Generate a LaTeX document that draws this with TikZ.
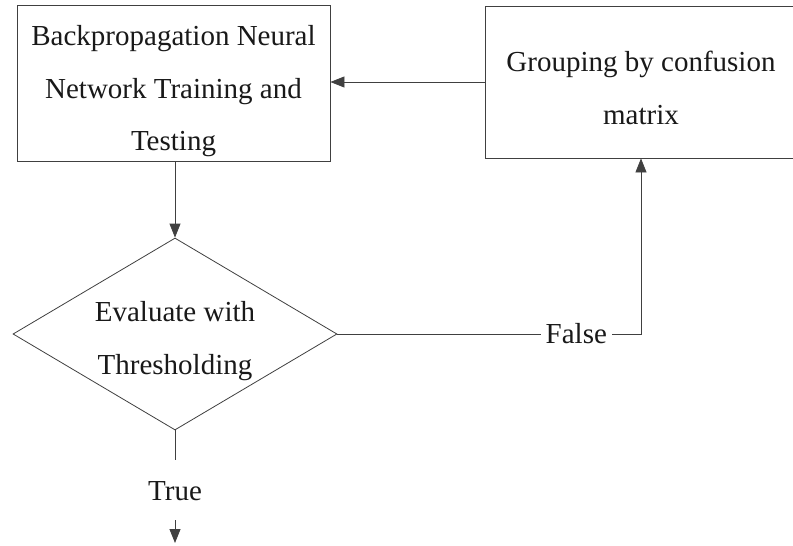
\documentclass[tikz,border=0pt]{standalone}
\usepackage{fontspec}
\setmainfont{Liberation Serif}
\usetikzlibrary{shapes.geometric,arrows.meta}
\begin{document}
\begin{tikzpicture}[x=1pt,y=-1pt,
  line width=0.8pt,
  lncol/.style={draw=black!75},
  txt/.style={text=black!90, font=\fontsize{29}{52.5}\selectfont, align=center},
  boxnode/.style={lncol, txt, rectangle, inner sep=0pt},
  decision/.style={lncol, txt, diamond, inner sep=0pt, shape aspect=1.6875, minimum width=324pt, minimum height=192pt},
  arr/.style={lncol, -{Triangle[length=14pt,width=11pt]}},
  lbl/.style={txt, fill=white, inner xsep=5pt, inner ysep=2pt}
]
\useasboundingbox (0,0) rectangle (793,546);
\fill[white] (0,0) rectangle (793,546);

\node[boxnode, minimum width=313pt, minimum height=156pt] (a) at (173.5,83)
  {\rule{0pt}{37pt}Backpropagation Neural\\Network Training and\\Testing};
\node[boxnode, minimum width=312pt, minimum height=152pt] (b) at (641,82)
  {\rule{0pt}{32pt}Grouping by confusion\\matrix};
\node[decision] (d) at (175,334)
  {\rule{0pt}{34pt}Evaluate with\\Thresholding};

\coordinate (corner) at (d.east -| b.south);
\coordinate (t1) at (175,460);
\coordinate (t2) at (175,520);
\coordinate (t3) at (175,543);
\node[txt, inner sep=0pt] (true) at (175,491) {True};

\draw[arr] (d.north |- a.south) -- (d.north);
\draw[arr] (b.west) -- (b.west -| a.east);
\draw[arr] (d.east) -- node[lbl, pos=0.787] (false) {False} (corner) -- (b.south);
\draw[lncol] (d.south) -- (t1);
\draw[arr] (t2) -- (t3);
\end{tikzpicture}
\end{document}
